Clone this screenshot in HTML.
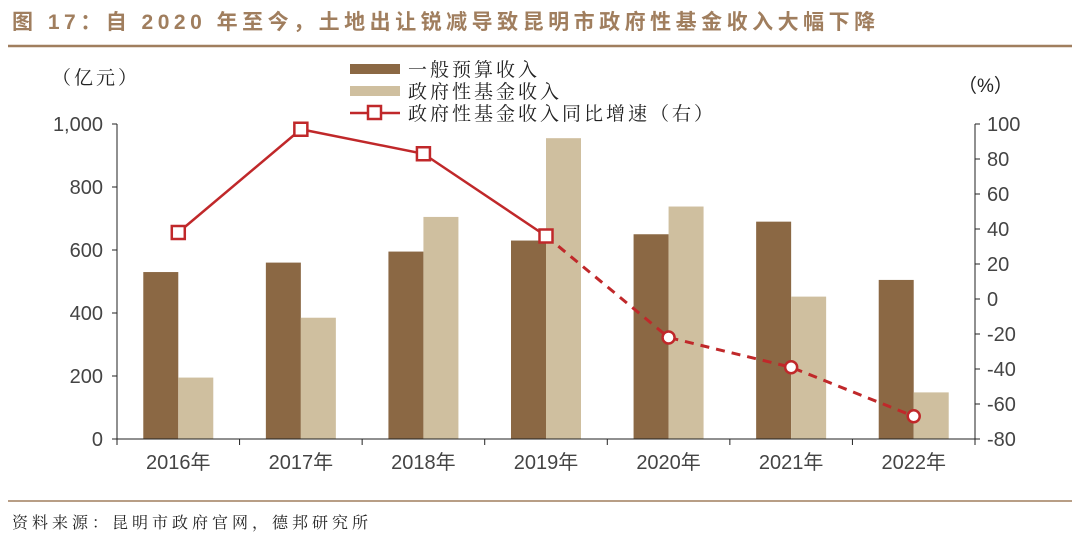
<!DOCTYPE html>
<html><head><meta charset="utf-8"><style>
body{margin:0;width:1080px;height:546px;background:#fff;overflow:hidden;font-family:"Liberation Sans","Noto Sans CJK SC",sans-serif}
</style></head><body>
<svg id="c" width="1080" height="546" xmlns="http://www.w3.org/2000/svg">
<text x="12" y="29" font-size="21" font-weight="bold" fill="#a07e5e" letter-spacing="4.5" font-family="Liberation Sans, Noto Sans CJK SC, sans-serif">图 17：自 2020 年至今，土地出让锐减导致昆明市政府性基金收入大幅下降</text>
<line x1="8" y1="46" x2="1072" y2="46" stroke="#a07e5e" stroke-width="2.5"/>
<line x1="8" y1="501" x2="1072" y2="501" stroke="#a07e5e" stroke-width="1.5"/>
<text x="12" y="528" font-size="16" fill="#222" letter-spacing="4" font-family="Liberation Serif, Noto Serif CJK SC, serif">资料来源：昆明市政府官网，德邦研究所</text>
<text x="52" y="84" font-size="19" fill="#222" letter-spacing="3" font-family="Liberation Serif, Noto Serif CJK SC, serif">（亿元）</text>
<text x="958" y="92" font-size="19" fill="#222">（%）</text>
<g id="plot"></g>
</svg>
<script>
const categories=["2016年","2017年","2018年","2019年","2020年","2021年","2022年"];
const budgetRevenue=[530,560,595,630,650,690,505];
const fundRevenue=[195,385,705,955,738,452,148];
const fundGrowth=[38,97,83,36,-22,-39,-67];
const leftTicks=[0,200,400,600,800,1000];
const leftTickLabels=["0","200","400","600","800","1,000"];
const rightTicks=[-80,-60,-40,-20,0,20,40,60,80,100];
const legendLabels=["一般预算收入","政府性基金收入","政府性基金收入同比增速（右）"];

const NS="http://www.w3.org/2000/svg";
const g=document.getElementById('plot');
const X0=117,X1=975,Y0=439,Y1=124;
const bw=(X1-X0)/categories.length;
const yL=v=>Y0-(v-0)/(1000-0)*(Y0-Y1);
const yR=v=>Y0-(v+80)/(180)*(Y0-Y1);
const xC=i=>X0+bw*(i+0.5);
function el(t,a){const e=document.createElementNS(NS,t);for(const k in a)e.setAttribute(k,a[k]);g.appendChild(e);return e;}
const barW=35;
budgetRevenue.forEach((v,i)=>{const r=el('rect',{x:xC(i)-barW,y:yL(v),width:barW,height:Y0-yL(v),fill:'#8b6844'});

});
fundRevenue.forEach((v,i)=>{const r=el('rect',{x:xC(i),y:yL(v),width:barW,height:Y0-yL(v),fill:'#cfbf9f'});

});
let a=el('line',{x1:X0,y1:Y1,x2:X0,y2:Y0,stroke:'#222','stroke-width':1});

a=el('line',{x1:X1,y1:Y1,x2:X1,y2:Y0,stroke:'#222','stroke-width':1});

a=el('line',{x1:X0,y1:Y0,x2:X1,y2:Y0,stroke:'#222','stroke-width':1});

leftTicks.forEach((v,i)=>{el('line',{x1:X0-5,y1:yL(v),x2:X0,y2:yL(v),stroke:'#222'});
const t=el('text',{x:X0-14,y:yL(v)+7,'text-anchor':'end','font-size':20,fill:'#444'});t.textContent=leftTickLabels[i];
});
rightTicks.forEach(v=>{el('line',{x1:X1,y1:yR(v),x2:X1+5,y2:yR(v),stroke:'#222'});
const t=el('text',{x:X1+12,y:yR(v)+7,'font-size':20,fill:'#444'});t.textContent=v;
});
for(let i=0;i<=categories.length;i++)el('line',{x1:X0+bw*i,y1:Y0,x2:X0+bw*i,y2:Y0+6,stroke:'#222'});
categories.forEach((c,i)=>{const t=el('text',{x:xC(i),y:Y0+30,'text-anchor':'middle','font-size':20,fill:'#444'});t.textContent=c;
});
const pts=fundGrowth.map((v,i)=>[xC(i),yR(v)]);
const split=3;
let p=el('polyline',{points:pts.slice(0,split+1).map(q=>q.join(',')).join(' '),fill:'none',stroke:'#c0282a','stroke-width':2.5});

p=el('polyline',{points:pts.slice(split).map(q=>q.join(',')).join(' '),fill:'none',stroke:'#c0282a','stroke-width':3,'stroke-dasharray':'9,7'});

pts.forEach((q,i)=>{let m;
if(i<=split)m=el('rect',{x:q[0]-6.5,y:q[1]-6.5,width:13,height:13,fill:'#fff',stroke:'#c0282a','stroke-width':2.5});
else m=el('circle',{cx:q[0],cy:q[1],r:6,fill:'#fff',stroke:'#c0282a','stroke-width':2.5});
});
const LX=350;
let r=el('rect',{x:LX,y:64,width:50,height:10,fill:'#8b6844'});
r=el('rect',{x:LX,y:86,width:50,height:10,fill:'#cfbf9f'});
r=el('line',{x1:LX,y1:113,x2:LX+50,y2:113,stroke:'#c0282a','stroke-width':2.5});
el('rect',{x:LX+18,y:106,width:13,height:13,fill:'#fff',stroke:'#c0282a','stroke-width':2.5});
legendLabels.forEach((s,i)=>{const t=el('text',{x:LX+58,y:76+i*22,'font-size':19,fill:'#222','letter-spacing':3,'font-family':'Liberation Serif, Noto Serif CJK SC, serif'});t.textContent=s;
});
</script>
</body></html>
